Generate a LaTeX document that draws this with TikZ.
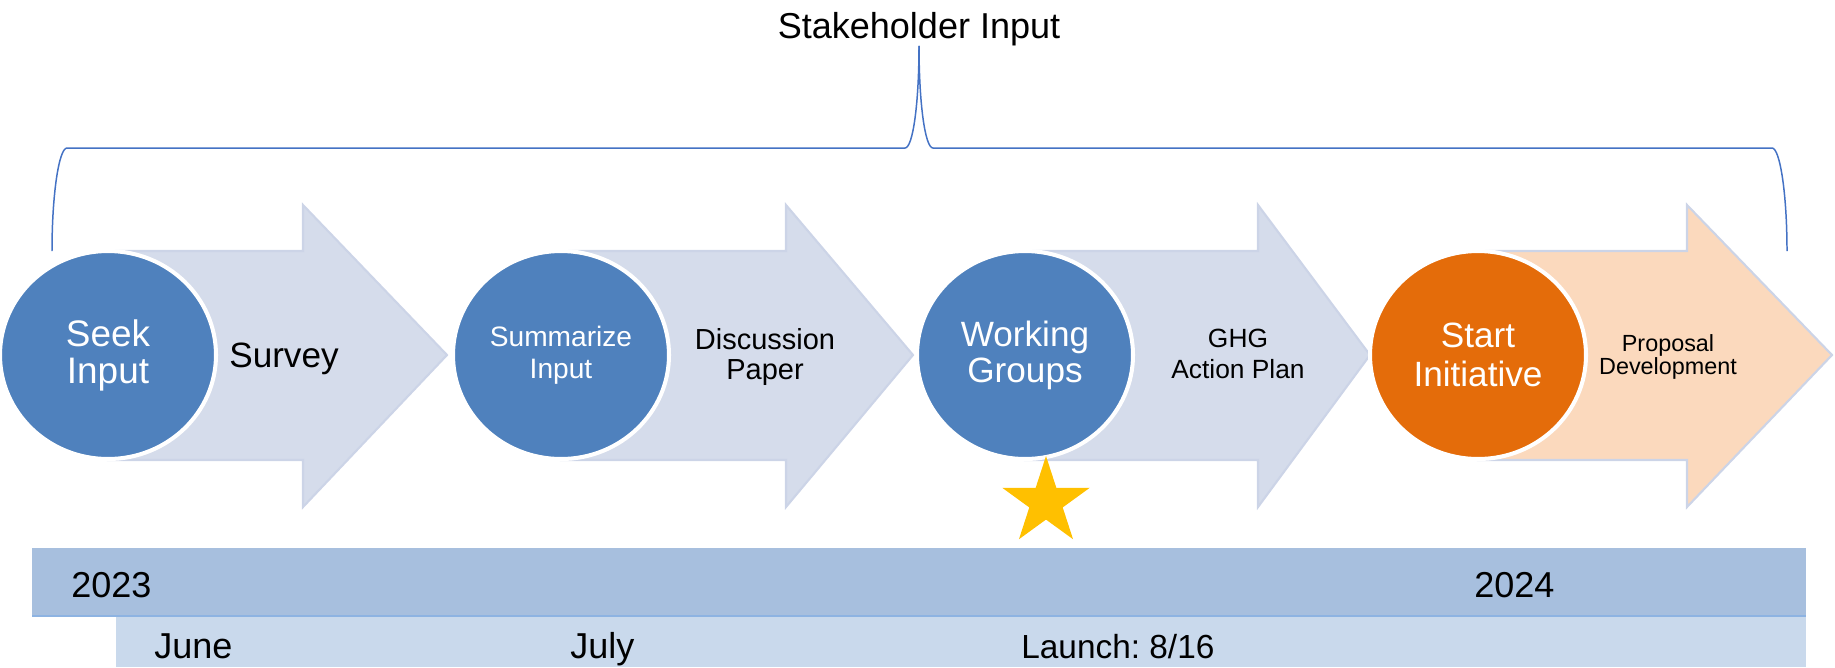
\documentclass[tikz,border=0pt]{standalone}
\usepackage{fontspec}
\setmainfont{Liberation Sans}
\usepackage{xcolor}
\usepackage{tikz}
\usetikzlibrary{calc,positioning,shapes.geometric}
\frenchspacing

\definecolor{stageblue}{RGB}{79,129,189}
\definecolor{stageorange}{RGB}{228,108,10}
\definecolor{shaftfill}{RGB}{213,220,235}
\definecolor{shaftline}{RGB}{204,212,231}
\definecolor{peach}{RGB}{251,217,189}
\definecolor{yearbar}{RGB}{167,191,222}
\definecolor{monthbar}{RGB}{201,217,236}
\definecolor{barline}{RGB}{141,179,226}
\definecolor{starcol}{RGB}{255,192,0}
\definecolor{bracecol}{RGB}{68,114,196}

\begin{document}
\begin{tikzpicture}[x=0.2mm, y=-0.2mm]
	\tikzstyle{stage}=[ellipse, draw=white, line width=2.3pt, minimum width=43.2mm, minimum height=41.6mm, inner sep=0pt, text=white, align=center]
	\tikzstyle{shaft}=[fill=shaftfill, draw=shaftline, line width=1.2pt]
	\tikzstyle{tag}=[align=center, inner sep=0pt]
	\tikzstyle{bartext}=[anchor=base west, inner sep=0pt, font=\fontsize{20.5}{24}\selectfont]
	\tikzstyle{brace}=[draw=bracecol, line width=0.85pt]
	
	\useasboundingbox (0,0) rectangle (1835,667);
	
	% timeline
	\fill[yearbar] (32,548) rectangle (1806,616);
	\fill[monthbar] (116,616) rectangle (1806,667);
	\draw[barline, line width=0.8pt] (32,616) -- (1806,616);
	
	\node[bartext] (y2023) at (71,597) {2023};
	\node[bartext] (y2024) at (1474,597) {2024};
	\node[bartext] (june) at (154,658) {June};
	\node[bartext] (july) at (570,658) {July};
	\node[bartext, font=\fontsize{19}{24}\selectfont] (launchdate) at (1021,658) {Launch: 8/16};
	
	% arrows
	\draw[shaft] (108,251) -- (303,251) -- (303,205) -- (447,355) -- (303,507) -- (303,460) -- (108,460) -- cycle;
	\draw[shaft] (561,251) -- (786,251) -- (786,205) -- (913,355) -- (786,507) -- (786,460) -- (561,460) -- cycle;
	\draw[shaft] (1025,251) -- (1258,251) -- (1258,205) -- (1370,355) -- (1258,507) -- (1258,460) -- (1025,460) -- cycle;
	\draw[shaft, fill=peach] (1478,251) -- (1687,251) -- (1687,205) -- (1832,355) -- (1687,507) -- (1687,460) -- (1478,460) -- cycle;
	
	% stages
	\node[stage, fill=stageblue, font=\fontsize{21}{21}\selectfont] (seek) at (108,355) {Seek\\Input};
	\node[stage, fill=stageblue, font=\fontsize{16}{18}\selectfont] (summarize) at (561,355) {Summarize\\Input};
	\node[stage, fill=stageblue, font=\fontsize{20}{20.5}\selectfont] (working) at (1025,355) {Working\\Groups};
	\node[stage, fill=stageorange, font=\fontsize{20}{22}\selectfont] (start) at (1478,355) {Start\\Initiative};
	
	\node[tag, anchor=base, font=\fontsize{20}{20}\selectfont] (survey) at (284,367) {Survey};
	\node[tag, font=\fontsize{16.5}{17.5}\selectfont] (paper) at (765,357) {Discussion\\Paper};
	\node[tag, font=\fontsize{15}{17.5}\selectfont] (plan) at (1238,354) {GHG\\Action Plan};
	\node[tag, font=\fontsize{13.3}{13.3}\selectfont] (proposal) at (1668,357) {Proposal\\Development};
	
	\node[star, star points=5, star point ratio=2.618, fill=starcol, minimum size=18.4mm, inner sep=0pt] (launch) at (1046,502) {};
	
	% stakeholder brace
	\node[anchor=base, inner sep=0pt, font=\fontsize{20.5}{20.5}\selectfont] (stake) at (919,38) {Stakeholder Input};
	\draw[brace] (stake.south) .. controls +(0,57) and +(8,0) .. (905,148) -- (67,148) .. controls +(-8,0) and +(0,-57) .. (52,251);
	\draw[brace] (stake.south) .. controls +(0,57) and +(-8,0) .. (933,148) -- (1772,148) .. controls +(8,0) and +(0,-57) .. (1787,251);
\end{tikzpicture}
\end{document}
